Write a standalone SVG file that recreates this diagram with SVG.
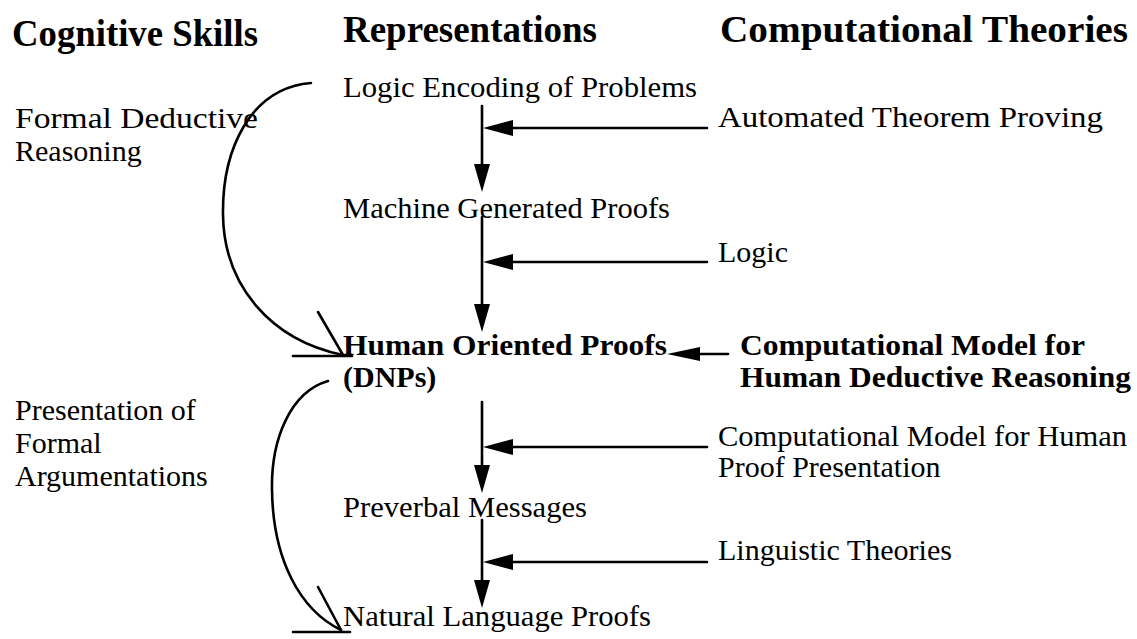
<svg xmlns="http://www.w3.org/2000/svg" width="1137" height="639" viewBox="0 0 1137 639">
<style>
.h{font-family:"Liberation Serif","Times New Roman",serif;font-weight:bold;font-size:38px;fill:#000}
.t{font-family:"Liberation Serif","Times New Roman",serif;font-size:30px;fill:#000}
.b{font-family:"Liberation Serif","Times New Roman",serif;font-weight:bold;font-size:30px;fill:#000}
.ln{stroke:#000;stroke-width:2.6;fill:none;stroke-linecap:round}
.ah{fill:#000;stroke:none}
</style>
<rect width="1137" height="639" fill="#fff"/>
<g id="headers">
<text class="h" x="12" y="46" textLength="246" lengthAdjust="spacingAndGlyphs">Cognitive Skills</text>
<text class="h" x="343" y="42" textLength="254" lengthAdjust="spacingAndGlyphs">Representations</text>
<text class="h" x="720" y="42" textLength="408" lengthAdjust="spacingAndGlyphs">Computational Theories</text>
</g>
<g id="skill-formal-deductive">
<text class="t" x="15" y="128" textLength="243" lengthAdjust="spacingAndGlyphs">Formal Deductive</text>
<text class="t" x="15" y="161">Reasoning</text>
</g>
<g id="skill-presentation">
<text class="t" x="15" y="420">Presentation of</text>
<text class="t" x="15" y="453">Formal</text>
<text class="t" x="15" y="486">Argumentations</text>
</g>
<g id="rep-logic-encoding"><text class="t" x="343" y="97" textLength="354" lengthAdjust="spacingAndGlyphs">Logic Encoding of Problems</text></g>
<g id="rep-machine-proofs"><text class="t" x="343" y="218" textLength="327" lengthAdjust="spacingAndGlyphs">Machine Generated Proofs</text></g>
<g id="rep-human-proofs">
<text class="b" x="343" y="355" textLength="324" lengthAdjust="spacingAndGlyphs">Human Oriented Proofs</text>
<text class="b" x="343" y="387">(DNPs)</text>
</g>
<g id="rep-preverbal"><text class="t" x="343" y="517" textLength="244" lengthAdjust="spacingAndGlyphs">Preverbal Messages</text></g>
<g id="rep-natural-language"><text class="t" x="343" y="626" textLength="308" lengthAdjust="spacingAndGlyphs">Natural Language Proofs</text></g>
<g id="th-atp"><text class="t" x="718" y="127" textLength="385" lengthAdjust="spacingAndGlyphs">Automated Theorem Proving</text></g>
<g id="th-logic"><text class="t" x="718" y="262">Logic</text></g>
<g id="th-cm-deductive">
<text class="b" x="740" y="355" textLength="345" lengthAdjust="spacingAndGlyphs">Computational Model for</text>
<text class="b" x="740" y="387" textLength="391" lengthAdjust="spacingAndGlyphs">Human Deductive Reasoning</text>
</g>
<g id="th-cm-presentation">
<text class="t" x="718" y="446" textLength="409" lengthAdjust="spacingAndGlyphs">Computational Model for Human</text>
<text class="t" x="718" y="477">Proof Presentation</text>
</g>
<g id="th-linguistic"><text class="t" x="718" y="560" textLength="234" lengthAdjust="spacingAndGlyphs">Linguistic Theories</text></g>
<g id="connectors">
<line class="ln" x1="482" y1="106" x2="482" y2="170"/>
<polygon class="ah" points="474,164 490,164 482,192"/>
<line class="ln" x1="482" y1="217" x2="482" y2="310"/>
<polygon class="ah" points="474,304 490,304 482,332"/>
<line class="ln" x1="482" y1="402" x2="482" y2="471"/>
<polygon class="ah" points="474,465 490,465 482,493"/>
<line class="ln" x1="482" y1="520" x2="482" y2="586"/>
<polygon class="ah" points="474,580 490,580 482,608"/>
<line class="ln" x1="707" y1="128" x2="505" y2="128"/>
<polygon class="ah" points="483,128 513,120 513,136"/>
<line class="ln" x1="707" y1="262" x2="505" y2="262"/>
<polygon class="ah" points="483,262 513,254 513,270"/>
<line class="ln" x1="728" y1="354" x2="690" y2="354"/>
<polygon class="ah" points="667,354 700,347 700,361"/>
<line class="ln" x1="707" y1="447" x2="505" y2="447"/>
<polygon class="ah" points="483,447 513,439 513,455"/>
<line class="ln" x1="707" y1="562" x2="505" y2="562"/>
<polygon class="ah" points="483,562 513,554 513,570"/>
<path class="ln" d="M311,83 C250,88 222,150 223,215 C224,285 270,340 343,355"/>
<line class="ln" x1="318" y1="312" x2="343" y2="355"/>
<line class="ln" x1="293" y1="356" x2="352" y2="356"/>
<path class="ln" d="M328,381 C290,392 271,440 272,490 C273,560 300,610 341,630"/>
<line class="ln" x1="318" y1="587" x2="341" y2="630"/>
<line class="ln" x1="293" y1="632" x2="350" y2="632"/>
</g>
</svg>
